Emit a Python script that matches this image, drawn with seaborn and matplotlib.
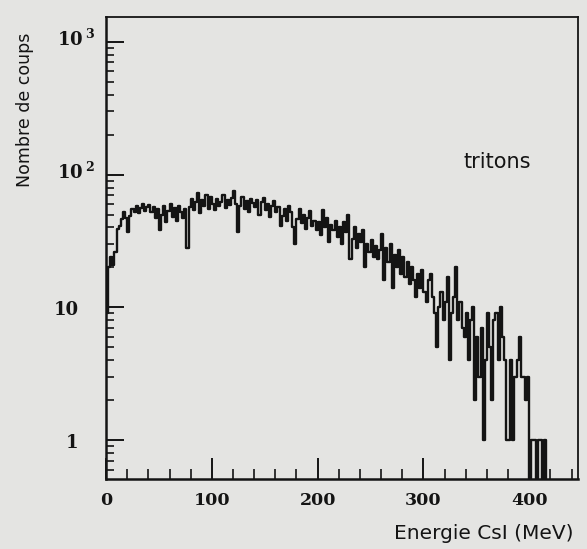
import numpy as np
import pandas as pd
import matplotlib
matplotlib.use("Agg")
import matplotlib.pyplot as plt
import matplotlib.transforms as mtransforms
import seaborn as sns
from matplotlib.ticker import MultipleLocator, LogLocator, FixedLocator, NullFormatter

# --- data: counts per 2 MeV bin ---
bin_width = 2  # MeV
counts = [
    9, 20, 24, 21, 26, 39, 41, 46, 52, 47,      # 0-18 MeV
    37, 49, 55, 52, 58, 51, 56, 60, 53, 57,     # 20-38
    59, 52, 57, 47, 55, 38, 50, 58, 44, 53,     # 40-58
    60, 48, 56, 45, 58, 52, 47, 55, 28, 57,     # 60-78
    66, 54, 62, 73, 51, 65, 58, 70, 55, 68,     # 80-98
    60, 54, 66, 58, 62, 70, 56, 64, 59, 67,     # 100-118
    75, 60, 37, 58, 68, 55, 63, 52, 66, 61,     # 120-138
    57, 64, 50, 62, 67, 54, 60, 48, 58, 63,     # 140-158
    52, 57, 41, 49, 55, 45, 58, 52, 40, 30,     # 160-178
    46, 55, 43, 50, 39, 47, 53, 41, 45, 38,     # 180-198
    44, 35, 54, 40, 47, 31, 42, 38, 45, 34,     # 200-218
    40, 30, 44, 37, 50, 23, 33, 40, 28, 36,     # 220-238
    31, 38, 20, 30, 26, 32, 24, 29, 23, 27,     # 240-258
    36, 16, 28, 22, 30, 14, 25, 20, 27, 18,     # 260-278
    24, 17, 22, 15, 20, 16, 12, 18, 14, 19,     # 280-298
    13, 11, 16, 18, 12, 9, 5, 10, 13, 8,        # 300-318
    11, 17, 4, 9, 12, 20, 8, 11, 7, 6,          # 320-338
    9, 4, 8, 10, 2, 6, 3, 7, 1, 4,              # 340-358
    9, 5, 2, 8, 9, 4, 10, 6, 4, 1,              # 360-378
    1, 4, 1, 3, 4, 6, 3, 3, 2, 3,               # 380-398
    0, 1, 1, 0, 1, 1, 0, 1, 0, 0,               # 400-418
]
energy = np.arange(len(counts)) * bin_width + bin_width / 2
df = pd.DataFrame({"energie": energy, "coups": counts})

x_major = [0, 100, 200, 300, 400]
y_major = [1, 10, 100, 1000]
y_labels = ["1", "10", r"$\mathbf{10}^{\;\mathbf{2}}$", r"$\mathbf{10}^{\;\mathbf{3}}$"]

bg = "#e4e4e2"
ink = "#141414"

sns.set_style("ticks")
plt.rcParams["mathtext.fontset"] = "dejavuserif"
plt.rcParams["font.family"] = ["DejaVu Sans"]

fig = plt.figure(figsize=(5.87, 5.49), dpi=100, facecolor=bg)
ax = fig.add_axes([0.1806, 0.1275, 0.804, 0.8415])
ax.set_facecolor(bg)

sns.histplot(data=df, x="energie", weights="coups", binwidth=bin_width,
             binrange=(0, len(counts) * bin_width),
             element="step", fill=False, color=ink, linewidth=1.7, ax=ax)

ax.set_yscale("log")
ax.set_xlim(0, 446)
ax.set_ylim(0.51, 1540)

# ticks
ax.xaxis.set_major_locator(FixedLocator(x_major))
ax.xaxis.set_minor_locator(MultipleLocator(20))
ax.yaxis.set_major_locator(FixedLocator(y_major))
ax.yaxis.set_minor_locator(LogLocator(base=10, subs=np.arange(2, 10)))
ax.yaxis.set_minor_formatter(NullFormatter())
ax.set_xticklabels([str(v) for v in x_major], fontfamily="DejaVu Serif",
                   fontweight="bold", fontsize=12.5)
ax.set_yticklabels([])

# y tick labels: plain numbers line up on their last digit,
# the powers of ten stick out to the right with their exponent
ytrans = mtransforms.blended_transform_factory(ax.transAxes, ax.transData)
for val, lab in zip(y_major, y_labels):
    if lab.startswith("$"):
        ax.text(-0.022, val * 1.04, lab, transform=ytrans, ha="right", va="center",
                fontsize=13, color=ink)
    else:
        ax.text(-0.058, val * 0.95, lab, transform=ytrans, ha="right", va="center",
                fontsize=13, fontfamily="DejaVu Serif", fontweight="bold", color=ink)

ax.tick_params(axis="x", which="major", direction="in", length=15, width=1.4,
               pad=9, colors=ink)
ax.tick_params(axis="x", which="minor", direction="in", length=7, width=1.2, colors=ink)
ax.tick_params(axis="y", which="major", direction="in", length=13, width=1.4, colors=ink)
ax.tick_params(axis="y", which="minor", direction="in", length=6, width=1.2, colors=ink)

for side in ["left", "bottom"]:
    ax.spines[side].set_linewidth(1.8)
    ax.spines[side].set_color(ink)
for side in ["top", "right"]:
    ax.spines[side].set_linewidth(1.3)
    ax.spines[side].set_color(ink)

ax.set_xlabel("Energie CsI (MeV)", fontsize=14.5, color=ink)
ax.xaxis.set_label_coords(0.80, -0.098)
ax.set_ylabel("Nombre de coups", fontsize=12.5, color=ink)
ax.yaxis.set_label_coords(-0.153, 0.80)

ax.text(0.828, 0.686, "tritons", transform=ax.transAxes, fontsize=15,
        ha="center", va="center", color=ink)

fig.savefig("out.png", dpi=100, facecolor=bg)
